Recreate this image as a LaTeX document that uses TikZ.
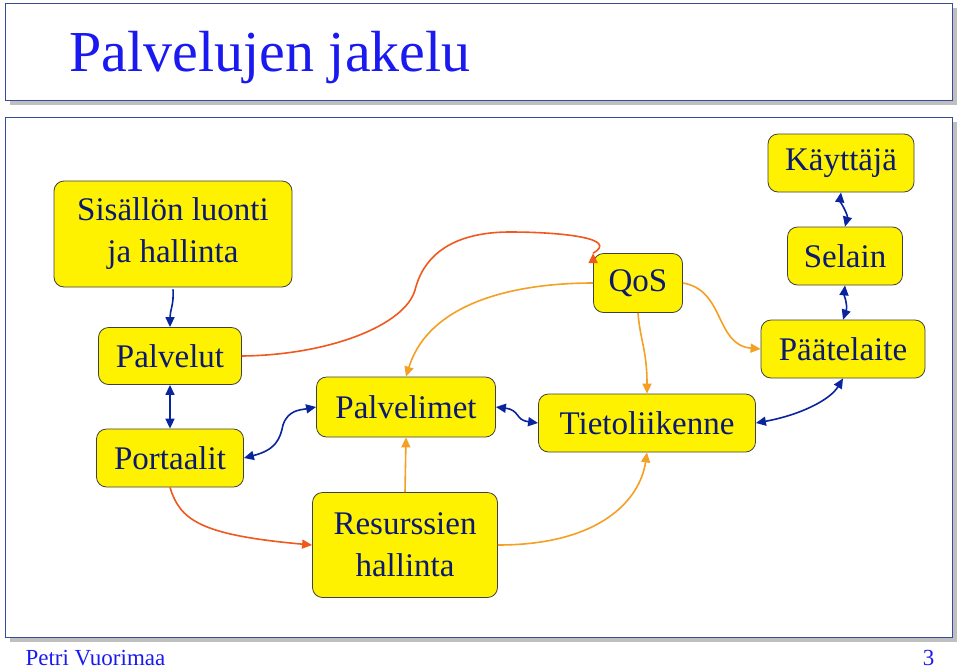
\documentclass[tikz,border=0pt]{standalone}
\usepackage{fontspec}
\setmainfont{Liberation Serif}
\usetikzlibrary{arrows.meta}
\definecolor{ink}{HTML}{0B1A70}
\definecolor{ttl}{HTML}{1A1AF0}
\definecolor{ablue}{HTML}{0A24A0}
\definecolor{ared}{HTML}{F0581E}
\definecolor{aor}{HTML}{F5A023}
\definecolor{frame}{HTML}{3A4A9A}
\tikzset{
  box/.style={draw=black!75, line width=0.8pt, fill=yellow, rounded corners=10pt, text=ink, align=center, inner sep=0pt, font=\fontsize{33}{42}\selectfont},
  bl/.style={draw=ablue, line width=1.6pt, -{Triangle[length=10pt,width=9pt]}},
  bbl/.style={draw=ablue, line width=1.6pt, {Triangle[length=10pt,width=9pt]}-{Triangle[length=10pt,width=9pt]}},
  rd/.style={draw=ared, line width=1.6pt, -{Triangle[length=10pt,width=9pt]}},
  og/.style={draw=aor, line width=1.6pt, -{Triangle[length=10pt,width=9pt]}},
  panel/.style={draw=frame, line width=1pt, fill=white}
}
\begin{document}
\begin{tikzpicture}[x=1pt,y=-1pt]
\useasboundingbox (0,0) rectangle (960,670);
% frames
\fill[black!25] (10,8) rectangle (957,105);
\draw[panel] (5,3) rectangle (952,100);
\fill[black!25] (10,122) rectangle (957,642);
\draw[panel] (5,117) rectangle (952,637);
\node[anchor=west, text=ttl, font=\fontsize{58}{60}\selectfont] (title) at (66,58) {Palvelujen jakelu};
\node[anchor=west, text=ttl, font=\fontsize{23}{25}\selectfont] (foot) at (22,658) {Petri Vuorimaa};
\node[anchor=east, text=ttl, font=\fontsize{23}{25}\selectfont] (page) at (938,658) {3};
% nodes
\node[box, minimum width=238pt, minimum height=106pt] (sis) at (173,234) {Sisällön luonti\\ja hallinta};
\node[box, minimum width=143pt, minimum height=57pt] (pvl) at (170,356) {Palvelut};
\node[box, minimum width=147pt, minimum height=58pt] (por) at (170,458) {Portaalit};
\node[box, minimum width=179pt, minimum height=60pt] (pvm) at (406,407) {Palvelimet};
\node[box, minimum width=185pt, minimum height=105pt] (res) at (405,545) {Resurssien\\hallinta};
\node[box, minimum width=89pt, minimum height=59pt] (qos) at (638,283) {QoS};
\node[box, minimum width=217pt, minimum height=58pt] (tie) at (647,423) {Tietoliikenne};
\node[box, minimum width=146pt, minimum height=58pt] (kay) at (841,163) {Käyttäjä};
\node[box, minimum width=115pt, minimum height=58pt] (sel) at (845,256) {Selain};
\node[box, minimum width=164pt, minimum height=58pt] (paa) at (843,349) {Päätelaite};
% blue connectors
\draw[bl] (sis.south) ++(0,2) .. controls (174,305) and (170,310) .. (pvl.north);
\draw[bbl] (pvl.south) -- (por.north);
\draw[bbl] (por.east) .. controls (275,450) and (280,440) .. (283,425) .. controls (288,410) and (300,410) .. (pvm.west);
\draw[bbl] (pvm.east) .. controls (520,410) and (515,420) .. (tie.west);
\draw[bbl] (tie.east) .. controls (800,415) and (830,400) .. (paa.south);
\draw[bbl] (kay.south) .. controls (840,200) and (848,215) .. (sel.north);
\draw[bbl] (sel.south) .. controls (844,295) and (848,305) .. (paa.north);
% red connectors
\draw[rd] (pvl.east) .. controls (330,355) and (405,325) .. (415,290) .. controls (425,250) and (460,232) .. (510,232) .. controls (560,232) and (620,238) .. (qos.north west) ++(0,0);
\draw[rd] (por.south) .. controls (180,520) and (200,535) .. (res.west);
% orange connectors
\draw[og] (qos.west) .. controls (520,283) and (430,300) .. (pvm.north);
\draw[og] (qos.south) .. controls (640,340) and (647,350) .. (tie.north);
\draw[og] (qos.east) .. controls (725,290) and (715,345) .. (paa.west);
\draw[og] (res.north) -- (pvm.south);
\draw[og] (res.east) .. controls (600,545) and (640,500) .. (tie.south);
\end{tikzpicture}
\end{document}
